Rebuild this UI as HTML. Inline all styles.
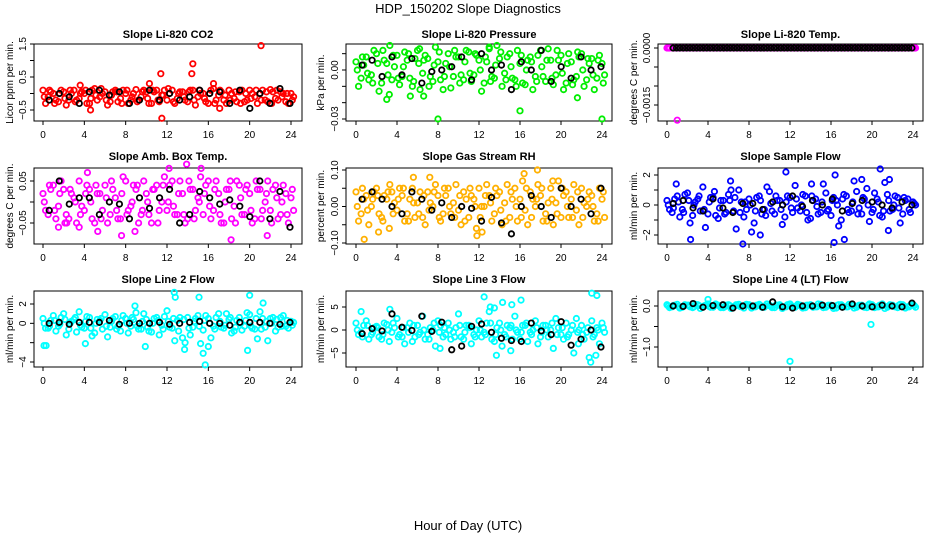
<!DOCTYPE html>
<html><head><meta charset="utf-8"><style>
body{margin:0;background:#fff}
svg{display:block;font-family:"Liberation Sans",sans-serif}
</style></head><body>
<svg id="chart" width="936" height="540" viewBox="0 0 936 540" xmlns="http://www.w3.org/2000/svg">
<text x="468" y="13" text-anchor="middle" font-size="13">HDP_150202  Slope Diagnostics</text>
<text x="468" y="530" text-anchor="middle" font-size="13">Hour of Day (UTC)</text>
</svg>
<script>
const xTicks = [0,4,8,12,16,20,24];
// CO2
const co2_c1=[0.1,-0.1,0.0,-0.25,0.05,-0.2,0.1,-0.15,0.0,-0.3,0.15,-0.1,0.05,-0.25,0.1,-0.15,0.0,-0.2,0.12,-0.1,0.05,-0.3,0.1,-0.05,-0.2,0.1,-0.15,0.05,-0.25,0.1,-0.1,0.0,-0.3,0.15,-0.05,-0.2,0.1,-0.15,0.05,-0.25,0.1,-0.1,0.0,-0.2,0.12,-0.15,0.05,-0.25,0.0];
const co2_c2=[-0.3,0.05,-0.2,0.1,-0.35,0.0,-0.2,0.05,-0.3,0.1,-0.2,0.0,-0.35,0.05,-0.25,0.1,-0.3,0.0,-0.2,0.1,-0.3,0.05,-0.25,0.1,0.0,-0.3,0.05,-0.2,0.1,-0.35,0.0,-0.25,0.1,-0.2,0.05,-0.3,0.0,-0.25,0.1,-0.2,0.0,-0.3,0.1,-0.25,0.05,-0.2,0.0,-0.3,-0.1];
const co2_c3=[-0.1,0.1,-0.3,0.0,-0.15,0.1,-0.25,0.0,0.1,-0.15,-0.05,0.15,-0.2,-0.05,0.05,-0.3,0.1,-0.1,-0.25,0.05,-0.15,0.1,-0.2,-0.05,0.15,-0.25,0.0,-0.1,0.05,-0.2,0.1,-0.15,0.0,-0.3,0.1,-0.05,-0.2,0.05,-0.3,0.0,-0.15,0.1,-0.2,0.05,-0.3,0.1,-0.1,0.0,-0.2];
const co2_ox=[10.3,11.4,11.5,14.5,14.4,17.1,21.1,3.6,16.5,4.6];
const co2_oy=[0.3,0.6,-0.75,0.9,0.6,-0.45,1.45,0.25,0.3,-0.5];
const co2_blk=[-0.2,0.0,-0.1,-0.3,0.05,0.1,-0.05,0.05,-0.3,-0.2,0.1,-0.2,0.0,-0.2,-0.1,0.1,0.0,0.05,-0.3,0.1,-0.45,0.0,-0.3,0.15,-0.3];
// Pressure
const pr_c1=[0.005,-0.005,0.008,-0.003,0.01,-0.008,0.004,-0.006,0.009,-0.004,0.006,-0.01,0.012,-0.002,0.007,-0.007,0.005,-0.012,0.01,-0.004,0.008,-0.006,0.011,-0.003,0.006,-0.008,0.013,-0.005,0.007,-0.002,0.01,-0.006,0.004,-0.009,0.008,-0.004,0.012,-0.007,0.006,-0.003,0.009,-0.008,0.005,-0.004,0.01,-0.006,0.007,-0.005,0.004];
const pr_c2=[-0.01,0.003,-0.006,0.012,-0.013,0.006,-0.015,0.002,-0.009,0.011,-0.005,0.007,-0.012,0.009,-0.004,0.014,-0.006,0.004,-0.011,0.008,-0.003,0.012,-0.007,0.009,-0.013,0.005,-0.004,0.015,-0.01,0.008,-0.005,0.012,-0.008,0.006,-0.012,0.009,-0.004,0.013,-0.009,0.006,-0.012,0.01,-0.006,0.008,-0.01,0.004,-0.012,0.009,-0.003];
const pr_c3=[0.0,0.008,-0.002,-0.008,0.004,0.012,-0.003,0.009,-0.005,0.002,0.01,-0.007,0.004,0.006,-0.01,0.003,0.011,-0.004,0.002,0.012,-0.008,0.005,-0.002,0.01,0.0,0.008,-0.007,0.003,0.011,-0.006,0.002,-0.01,0.009,0.0,0.005,-0.007,0.002,0.006,-0.005,0.012,-0.002,0.004,-0.009,0.011,0.0,0.007,-0.003,0.006,-0.008];
const pr_ox=[3,8,16,21.6,24,5.3,6.6,3.3,6.2,13];
const pr_oy=[-0.018,-0.03,-0.025,-0.017,-0.03,-0.016,-0.016,0.015,0.013,0.014];
const pr_blk=[0.003,0.006,-0.004,0.008,-0.003,0.007,-0.008,-0.001,0.0,0.002,0.008,-0.006,0.01,0.0,0.003,-0.012,0.005,0.0,0.012,-0.007,0.002,-0.005,0.008,0.0,0.002];
// Li-820 Temp
const tp_c1=[0,0,0,0,0,0,0,0,0,0,0,0,0,0,0,0,0,0,0,0,0,0,0,0,0,0,0,0,0,0,0,0,0,0,0,0,0,0,0,0,0,0,0,0,0,0,0,0,0];
const tp_c2=[0,0,0,0,0,0,0,0,0,0,0,0,0,0,0,0,0,0,0,0,0,0,0,0,0,0,0,0,0,0,0,0,0,0,0,0,0,0,0,0,0,0,0,0,0,0,0,0,0];
const tp_c3=[0,0,0,0,0,0,0,0,0,0,0,0,0,0,0,0,0,0,0,0,0,0,0,0,0,0,0,0,0,0,0,0,0,0,0,0,0,0,0,0,0,0,0,0,0,0,0,0,0];
const tp_ox=[1.0];
const tp_oy=[-0.0019];
const tp_blk=[0,0,0,0,0,0,0,0,0,0,0,0,0,0,0,0,0,0,0,0,0,0,0,0,0,0,0,0,0,0,0,0,0,0,0,0,0,0,0,0,0,0,0,0,0,0,0,0,0,0,0,0,0,0,0,0,0,0,0,0,0,0,0,0,0,0,0,0,0,0,0,0];
// Amb box temp
const ab_c1=[0.02,-0.03,0.04,-0.01,0.03,-0.04,0.01,0.05,-0.02,0.03,-0.05,0.02,0.04,-0.03,0.01,-0.04,0.05,-0.01,0.03,-0.03,0.02,-0.05,0.04,0.0,-0.02,0.05,-0.03,0.02,-0.04,0.03,0.01,-0.03,0.05,-0.02,0.02,-0.05,0.03,-0.01,0.04,-0.03,0.02,-0.04,0.03,0.0,-0.02,0.04,-0.03,0.02,0.01];
const ab_c2=[-0.02,0.03,-0.04,0.05,-0.03,0.02,-0.05,-0.01,0.04,-0.04,0.02,-0.02,-0.05,0.03,-0.04,0.06,-0.02,0.04,-0.05,0.05,-0.03,0.03,-0.02,0.06,0.04,-0.03,0.05,-0.05,0.03,-0.02,0.06,0.04,-0.04,0.05,-0.05,0.03,-0.04,0.05,-0.03,0.04,-0.05,0.03,-0.02,0.05,0.03,-0.04,0.04,-0.05,-0.02];
const ab_c3=[0.0,0.04,-0.02,0.02,-0.05,0.03,0.0,-0.03,0.02,0.0,0.04,-0.04,0.01,0.05,-0.02,0.02,-0.03,0.0,0.04,-0.02,0.0,0.03,-0.05,0.04,0.0,-0.01,0.02,-0.03,0.05,-0.04,0.0,0.02,-0.01,0.03,-0.03,0.0,0.05,-0.05,0.01,0.03,-0.02,0.05,-0.04,0.02,-0.05,0.01,0.0,-0.03,0.03];
const ab_ox=[1.5,2.3,5.3,7.6,8.9,13.9,18.2,21.7,3.5,4.3,15.3,12.2];
const ab_oy=[-0.06,-0.05,-0.07,-0.08,-0.07,0.09,-0.09,-0.08,-0.06,0.07,0.08,0.08];
const ab_blk=[-0.02,0.05,-0.005,0.01,0.01,-0.03,0.0,-0.005,-0.04,0.01,-0.015,0.01,0.03,-0.05,-0.03,0.025,0.01,-0.005,0.005,-0.01,-0.035,0.05,-0.04,0.025,-0.06];
// Gas stream RH
const rh_c1=[0.04,-0.02,0.03,0.0,0.05,-0.03,0.02,0.04,-0.01,0.03,-0.02,0.05,0.01,-0.03,0.04,0.0,0.03,-0.02,0.05,0.01,-0.01,0.04,-0.03,0.02,0.05,0.0,0.03,-0.02,0.04,0.01,-0.03,0.05,0.02,-0.01,0.04,0.0,0.03,-0.02,0.05,0.01,-0.03,0.04,0.02,-0.01,0.05,0.0,0.03,-0.02,0.02];
const rh_c2=[-0.04,0.02,-0.05,0.04,-0.02,0.03,-0.06,0.01,0.05,-0.04,0.02,-0.03,0.04,-0.05,0.01,0.06,-0.04,0.03,-0.02,0.06,-0.05,0.02,0.03,-0.06,0.0,0.06,-0.04,0.03,-0.05,0.06,0.02,-0.04,0.07,-0.05,0.02,0.06,-0.04,0.01,-0.05,0.07,0.03,-0.03,0.06,-0.05,0.01,0.04,-0.04,0.05,-0.03];
const rh_c3=[0.0,0.05,-0.01,0.02,0.03,-0.04,0.04,-0.02,0.02,0.05,-0.04,0.01,-0.02,0.03,-0.01,0.04,-0.03,0.05,0.0,-0.03,0.03,-0.04,0.05,0.0,-0.03,0.03,0.01,0.05,-0.01,-0.04,0.04,0.0,-0.03,0.05,-0.03,0.02,0.05,-0.04,0.02,-0.02,0.05,0.0,-0.03,0.04,-0.03,0.02,0.0,-0.04,0.04];
const rh_ox=[0.8,3.3,5.6,7.2,11.8,17.7,16.4,12.3,19.2,2.2];
const rh_oy=[-0.09,0.06,0.08,0.08,-0.08,0.10,0.09,-0.07,0.07,-0.07];
const rh_blk=[0.02,0.04,0.02,0.0,-0.02,0.04,0.02,-0.01,0.01,-0.03,0.0,-0.005,-0.04,0.025,-0.045,-0.075,0.0,0.03,0.0,-0.03,0.05,0.0,0.02,-0.02,0.05];
// Sample flow
const sf_c1=[0.3,-0.5,0.6,-0.3,0.8,-0.7,0.4,1.2,-0.6,0.5,-0.9,0.3,0.7,-0.4,1.0,-0.8,0.4,-1.2,0.6,-0.3,0.9,-0.6,0.3,-0.8,0.5,1.3,-0.4,0.6,-0.9,0.4,-0.5,0.8,-0.7,0.3,-1.0,0.6,-0.4,0.9,-0.6,1.1,-0.5,0.4,-0.8,0.7,-0.3,0.5,-0.6,0.4,0.2];
const sf_c2=[-0.3,0.4,-0.8,0.7,-1.2,0.2,-0.4,-1.5,0.5,-0.7,0.3,-0.5,1.0,-1.6,0.2,-0.3,-1.8,0.5,-0.6,1.2,-0.4,0.3,-1.3,0.6,-0.5,-0.2,0.7,-1.0,0.3,-0.6,1.4,-0.3,0.5,-1.4,0.7,-0.5,1.6,-0.2,0.4,-1.1,0.8,-0.7,1.5,-0.4,0.6,-1.2,0.3,-0.5,0.0];
const sf_c3=[0.0,-0.2,0.2,-0.5,0.3,0.0,0.6,-0.3,0.2,0.9,-0.2,-0.6,0.3,0.5,-0.5,0.2,0.0,-0.4,0.3,-0.7,0.1,0.6,-0.3,0.2,-0.2,0.4,0.0,-0.5,0.6,-0.1,0.2,-0.4,0.3,0.0,0.4,-0.3,0.2,-0.6,0.5,0.0,-0.3,0.2,-0.4,0.3,0.0,-0.2,0.5,-0.3,0.1];
const sf_ox=[0.9,2.3,7.4,9.1,11.6,14.1,16.4,16.3,17.3,19.0,20.8,21.6,21.7,6.2];
const sf_oy=[1.4,-2.3,-2.6,-2.0,2.2,1.4,2.0,-2.5,-2.3,1.7,2.4,-1.7,1.7,1.6];
const sf_blk=[0.1,0.3,-0.2,-0.4,0.4,-0.2,-0.5,0.1,0.1,-0.3,0.2,0.0,0.6,-0.1,0.3,0.0,0.4,-0.4,0.1,0.3,0.2,0.0,-0.2,0.2,0.0];
// Line 2 flow
const l2_c1=[0.5,-0.5,0.8,-0.3,1.0,-0.6,0.4,1.2,-0.5,0.6,-1.0,0.3,0.9,-0.4,0.7,-0.8,0.5,-0.3,1.1,-0.6,0.4,-0.9,0.6,-0.2,1.3,-0.5,0.3,-1.5,0.6,-0.4,0.8,-0.7,0.5,-0.3,1.0,-0.5,0.4,-0.8,0.6,-0.3,0.9,-0.6,1.2,-0.4,0.5,-0.8,0.6,-0.3,0.2];
const l2_c2=[-0.5,0.3,-0.8,0.6,-1.2,0.2,-0.9,-0.4,0.7,-1.3,0.4,-0.6,-1.4,0.5,-0.3,0.8,-1.0,0.4,-0.6,1.0,-0.8,0.5,-1.2,0.7,-0.4,-1.8,0.6,-2.0,-1.2,0.5,-2.1,0.8,-1.5,0.6,-0.4,1.0,-1.0,0.3,-0.7,1.1,-0.5,-1.6,0.5,-1.8,0.6,-0.4,0.8,-0.5,0.1];
const l2_c3=[0.0,-0.3,0.3,-0.1,0.4,0.0,0.6,-0.2,0.2,-0.5,0.0,0.5,-0.3,0.2,-0.6,0.3,0.0,0.6,-0.3,0.2,-0.4,0.0,0.3,-0.6,0.2,0.5,-0.8,0.4,-0.5,0.2,-0.3,0.3,0.0,-0.6,0.2,-0.2,0.6,-0.4,0.0,0.3,-0.3,0.5,-0.6,0.2,0.0,0.4,-0.3,0.3,-0.2];
const l2_ox=[0.1,0.3,8.9,9.9,12.7,12.8,13.7,15.1,15.5,15.7,16.0,19.8,20.0,21.3,4.1];
const l2_oy=[-2.3,-2.3,1.8,-2.4,3.2,2.7,-2.7,2.7,-3.1,-4.3,-2.4,-2.8,2.9,2.1,-2.1];
const l2_blk=[0.0,0.1,-0.1,0.1,0.1,0.1,0.3,-0.1,0.0,0.0,0.0,0.1,-0.1,0.0,0.1,0.2,0.0,0.0,-0.2,0.1,0.1,0.1,0.0,-0.1,0.1];
// Line 3 flow
const l3_c1=[1.5,-0.5,2.0,-1.0,0.8,-2.0,1.2,-0.5,2.5,-1.5,0.5,-2.5,1.0,3.0,-1.0,0.0,2.0,-1.5,1.5,-0.5,3.5,-2.0,1.0,-1.0,2.0,-0.5,4.0,-2.5,1.5,-1.0,0.5,3.0,-2.0,1.0,-0.5,2.0,-1.5,1.0,0.0,2.5,-1.0,1.5,0.0,2.5,1.0,-0.5,2.0,0.5,1.5];
const l3_c2=[-1.0,1.0,-2.0,0.5,-1.5,1.5,-2.5,0.5,-1.0,-3.0,1.5,-1.5,-0.5,-2.0,0.5,-3.5,1.0,-1.0,-2.0,0.5,-1.5,1.0,-3.0,0.0,-1.5,1.5,-2.0,0.5,-3.5,1.0,-2.0,-0.5,1.0,-2.5,0.0,-3.0,1.0,-1.5,-4.0,0.5,-2.0,-1.0,-5.0,0.0,-2.0,-6.0,-1.0,-3.0,-0.5];
const l3_c3=[0.0,-1.5,1.0,-0.5,0.5,-1.0,0.0,1.5,-1.5,0.5,-0.5,1.0,-1.0,0.0,-2.0,1.5,-0.5,0.5,0.0,-1.5,1.0,-0.5,0.5,-1.5,0.0,-1.0,1.5,-1.0,0.0,-1.5,1.0,0.0,-0.5,1.5,-1.0,0.5,-0.5,0.0,1.5,-1.0,0.5,-1.5,1.0,-0.5,-1.0,0.5,-1.5,0.0,0.5];
const l3_ox=[0.5,3.3,12.5,13.1,13.5,14.3,15.2,16.1,23.0,23.5,22.9,15.1,13.7,21.7,23.4,8.2];
const l3_oy=[4.0,4.5,7.2,5.0,4.8,6.0,5.5,6.5,8.0,7.5,-7.0,-4.5,-5.5,-3.0,-5.5,-4.0];
const l3_blk=[-0.8,0.3,-0.2,3.5,0.6,-0.1,3.0,-0.3,1.7,-4.3,-3.5,0.8,1.3,-0.5,-1.8,-2.3,-2.5,1.5,-0.2,-1.0,1.8,-3.3,-2.0,0.0,-3.7];
// Line 4 flow
const l4_c1=[0.03,-0.02,0.04,-0.03,0.02,-0.04,0.03,-0.02,0.05,-0.03,0.02,-0.04,0.03,-0.02,0.04,-0.05,0.03,-0.02,0.04,-0.03,0.02,-0.04,0.03,-0.02,0.05,-0.03,0.02,-0.04,0.03,-0.02,0.04,-0.03,0.02,-0.05,0.03,-0.02,0.04,-0.03,0.02,-0.04,0.03,-0.02,0.05,-0.03,0.02,-0.04,0.03,-0.02,0.03];
const l4_c2=[-0.04,0.02,-0.05,0.03,-0.02,0.04,-0.06,0.02,-0.03,0.05,-0.04,0.02,-0.06,0.03,-0.02,0.04,-0.05,0.02,-0.03,0.05,-0.04,0.02,-0.06,0.03,-0.02,0.04,-0.05,0.02,-0.03,0.05,-0.04,0.02,-0.06,0.03,-0.02,0.04,-0.05,0.02,-0.03,0.05,-0.04,0.02,-0.06,0.03,-0.02,0.04,-0.05,0.02,-0.03];
const l4_c3=[0.0,0.01,-0.01,0.0,0.02,-0.02,0.01,0.0,-0.01,0.02,0.0,-0.02,0.01,0.0,-0.01,0.02,0.0,-0.02,0.01,0.0,-0.01,0.02,0.0,-0.02,0.01,0.0,-0.01,0.02,0.0,-0.02,0.01,0.0,-0.01,0.02,0.0,-0.02,0.01,0.0,-0.01,0.02,0.0,-0.02,0.01,0.0,-0.01,0.02,0.0,-0.02,0.01];
const l4_ox=[4.0,12.0,19.9];
const l4_oy=[0.16,-1.35,-0.45];
const l4_blk=[0.0,-0.01,0.06,-0.03,0.01,0.03,-0.05,0.0,0.0,-0.03,0.1,-0.02,-0.05,0.0,0.0,0.02,0.01,-0.03,0.05,0.0,-0.02,0.02,0.0,-0.02,0.07];

const cols=[{x0:43,x24:291,bl:34,br:302,yl:9,tl:22},{x0:356,x24:602,bl:346,br:612,yl:320,tl:334},{x0:667,x24:913,bl:658,br:923,yl:633,tl:646}];
const rows=[{top:44,bot:121,title:38},{top:168,bot:244,title:160},{top:291,bot:367,title:283}];
const panels=[
 {id:'co2',r:0,c:0,title:'Slope Li-820 CO2',yl:'Licor ppm per min.',color:'#ff0000',ref:[1.5,44,-0.5,110],ticks:[-0.5,0,0.5,1,1.5],labs:['-0.5','0.5','1.5'],labv:[-0.5,0.5,1.5],c1:co2_c1,c2:co2_c2,c3:co2_c3,ox:co2_ox,oy:co2_oy,blk:co2_blk},
 {id:'pressure',r:0,c:1,title:'Slope Li-820 Pressure',yl:'kPa per min.',color:'#00ee00',ref:[0,70,-0.03,119],ticks:[-0.03,-0.02,-0.01,0,0.01],labs:['-0.03','0.00'],labv:[-0.03,0],c1:pr_c1,c2:pr_c2,c3:pr_c3,ox:pr_ox,oy:pr_oy,blk:pr_blk},
 {id:'li820-temp',r:0,c:2,title:'Slope Li-820 Temp.',yl:'degrees C per min.',color:'#ff00ff',ref:[0,48,-0.0015,105],ticks:[-0.0015,-0.001,-0.0005,0],labs:['-0.0015','0.0000'],labv:[-0.0015,0],c1:tp_c1,c2:tp_c2,c3:tp_c3,ox:tp_ox,oy:tp_oy,blk:tp_blk},
 {id:'amb-box-temp',r:1,c:0,title:'Slope Amb. Box Temp.',yl:'degrees C per min.',color:'#ff00ff',ref:[0.05,181,-0.05,223],ticks:[-0.05,0,0.05],labs:['-0.05','0.05'],labv:[-0.05,0.05],c1:ab_c1,c2:ab_c2,c3:ab_c3,ox:ab_ox,oy:ab_oy,blk:ab_blk},
 {id:'gas-stream-rh',r:1,c:1,title:'Slope Gas Stream RH',yl:'percent per min.',color:'#ffb000',ref:[0.1,170,-0.1,243],ticks:[-0.1,-0.05,0,0.05,0.1],labs:['-0.10','0.00','0.10'],labv:[-0.1,0,0.1],c1:rh_c1,c2:rh_c2,c3:rh_c3,ox:rh_ox,oy:rh_oy,blk:rh_blk},
 {id:'sample-flow',r:1,c:2,title:'Slope Sample Flow',yl:'ml/min per min.',color:'#0000ff',ref:[2,175,-2,235],ticks:[-2,-1,0,1,2],labs:['-2','0','2'],labv:[-2,0,2],c1:sf_c1,c2:sf_c2,c3:sf_c3,ox:sf_ox,oy:sf_oy,blk:sf_blk},
 {id:'line2-flow',r:2,c:0,title:'Slope Line 2 Flow',yl:'ml/min per min.',color:'#00ffff',ref:[2,304,-4,362],ticks:[-4,-2,0,2],labs:['-4','0','2'],labv:[-4,0,2],c1:l2_c1,c2:l2_c2,c3:l2_c3,ox:l2_ox,oy:l2_oy,blk:l2_blk},
 {id:'line3-flow',r:2,c:1,title:'Slope Line 3 Flow',yl:'ml/min per min.',color:'#00ffff',ref:[5,307,-5,353],ticks:[-5,0,5],labs:['-5','0','5'],labv:[-5,0,5],c1:l3_c1,c2:l3_c2,c3:l3_c3,ox:l3_ox,oy:l3_oy,blk:l3_blk},
 {id:'line4-flow',r:2,c:2,title:'Slope Line 4 (LT) Flow',yl:'ml/min per min.',color:'#00ffff',ref:[0,306,-1,347],ticks:[-1,-0.5,0],labs:['-1.0','0.0'],labv:[-1,0],c1:l4_c1,c2:l4_c2,c3:l4_c3,ox:l4_ox,oy:l4_oy,blk:l4_blk}
];
const NS='http://www.w3.org/2000/svg';
const svg=document.getElementById('chart');
function mk(tag,attrs,parent,txt){const e=document.createElementNS(NS,tag);for(const k in attrs)e.setAttribute(k,attrs[k]);if(txt!==undefined)e.textContent=txt;parent.appendChild(e);return e;}
panels.forEach(p=>{
 const C=cols[p.c],R=rows[p.r];
 const g=mk('g',{},svg);
 
 
 const xs=h=>C.x0+(C.x24-C.x0)*h/24;
 const ys=v=>p.ref[1]+(v-p.ref[0])*(p.ref[3]-p.ref[1])/(p.ref[2]-p.ref[0]);
 const t=mk('text',{x:(C.bl+C.br)/2,y:R.title,'text-anchor':'middle','font-size':'11','font-weight':'bold'},g,p.title);
 
 
 const box=mk('rect',{x:C.bl,y:R.top,width:C.br-C.bl,height:R.bot-R.top,fill:'none',stroke:'#000','stroke-width':'1'},g);
 
 
 const yl=mk('text',{x:0,y:0,transform:`translate(${C.yl+4},${(R.top+R.bot)/2}) rotate(-90)`,'text-anchor':'middle','font-size':'10'},g,p.yl);
 
 
 xTicks.forEach(h=>{
  mk('line',{x1:xs(h),x2:xs(h),y1:R.bot,y2:R.bot+4,stroke:'#000'},g);
  const tl=mk('text',{x:xs(h),y:R.bot+17,'text-anchor':'middle','font-size':'10'},g,String(h));
  
  
 });
 p.ticks.forEach(v=>{mk('line',{x1:C.bl-4,x2:C.bl,y1:ys(v),y2:ys(v),stroke:'#000'},g);});
 p.labv.forEach((v,i)=>{
  const tl=mk('text',{x:0,y:0,transform:`translate(${C.tl+4},${ys(v)}) rotate(-90)`,'text-anchor':'middle','font-size':'10'},g,p.labs[i].replace('-','\u2212'));
  
  
 });
 const dot=(x,y,col,name)=>{const c=mk('circle',{cx:x,cy:y,r:2.7,fill:'none',stroke:col,'stroke-width':'1.8'},g);
  
  };
 p.c1.forEach((v,i)=>dot(xs(i*0.5),ys(v),p.color,p.id+'-point'));
 p.c2.forEach((v,i)=>dot(xs(i*0.5+0.25),ys(v),p.color,p.id+'-point'));
 p.c3.forEach((v,i)=>dot(xs(i*0.5+0.125),ys(v),p.color,p.id+'-point'));
 p.ox.forEach((h,i)=>dot(xs(h),ys(p.oy[i]),p.color,p.id+'-outlier'));
 const n=p.blk.length;
 p.blk.forEach((v,i)=>dot(xs(0.6+i*23.3/(n-1)),ys(v),'#000',p.id+'-mean-point'));
});
</script>
</body></html>
